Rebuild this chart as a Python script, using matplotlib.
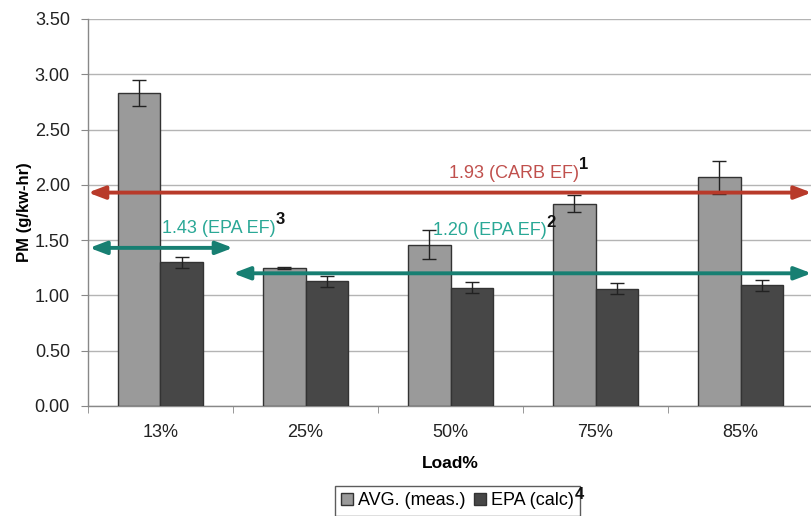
import matplotlib
matplotlib.use("Agg")
import matplotlib.pyplot as plt
import numpy as np

plt.rcParams['font.family'] = ['Liberation Sans', 'DejaVu Sans']

loads = ["13%", "25%", "50%", "75%", "85%"]
avg_meas = [2.83, 1.25, 1.46, 1.83, 2.07]
avg_err = [0.12, 0.01, 0.13, 0.08, 0.15]
epa_calc = [1.30, 1.13, 1.07, 1.06, 1.09]
epa_err = [0.05, 0.05, 0.05, 0.05, 0.05]

carb_ef = 1.93
epa_ef_low = 1.43
epa_ef = 1.20

yticks = [0.0, 0.5, 1.0, 1.5, 2.0, 2.5, 3.0, 3.5]

fig = plt.figure(figsize=(8.11, 5.16), dpi=100)
ax = fig.add_axes([0.1085, 0.2132, 0.894, 0.750])

x = np.arange(len(loads))
w = 0.29
ax.bar(x - w / 2, avg_meas, w, color="#9a9a9a", edgecolor="#333333", linewidth=1.0,
       yerr=avg_err, error_kw=dict(ecolor="#222222", elinewidth=1.0, capsize=5, capthick=1.0),
       label="AVG. (meas.)", zorder=3)
ax.bar(x + w / 2, epa_calc, w, color="#474747", edgecolor="#333333", linewidth=1.0,
       yerr=epa_err, error_kw=dict(ecolor="#222222", elinewidth=1.0, capsize=5, capthick=1.0),
       label="EPA (calc)", zorder=3)

ax.set_xlim(-0.5, len(loads) - 0.5)
ax.set_ylim(0, 3.5)
ax.set_yticks(yticks)
ax.set_yticklabels([f"{v:.2f}" for v in yticks], fontsize=13, color="#222222")
ax.set_xticks(x)
ax.set_xticklabels(loads, fontsize=13, color="#222222")
ax.set_xticks(np.arange(-0.5, len(loads), 1.0), minor=True)
ax.tick_params(axis="x", which="major", length=0, pad=13)
ax.tick_params(axis="x", which="minor", length=5, color="#888888", direction="out")
ax.tick_params(axis="y", length=5, color="#888888", direction="out", pad=8)

ax.yaxis.grid(True, color="#b4b4b4", linewidth=1.0, zorder=0)
ax.set_axisbelow(True)
for s in ("top", "right"):
    ax.spines[s].set_visible(False)
for s in ("left", "bottom"):
    ax.spines[s].set_color("#888888")
    ax.spines[s].set_linewidth(1.0)

ax.set_ylabel("PM (g/kw-hr)", fontsize=12, fontweight="bold", labelpad=2)
ax.set_xlabel("Load%", fontsize=12.5, fontweight="bold", labelpad=11)

red = "#b83a2a"
teal = "#177f72"


def ef_arrow(x0, x1, y, color):
    ax.annotate("", xy=(x0, y), xytext=(x1, y), xycoords="data",
                arrowprops=dict(arrowstyle="<|-|>,head_length=1.0,head_width=0.38",
                                color=color, lw=2.8, shrinkA=0, shrinkB=0),
                zorder=5, annotation_clip=False)


def ef_label(xc, y, text, sup, color):
    t = ax.text(xc, y, text, ha="center", va="bottom", fontsize=13, color=color, zorder=6)
    ax.annotate(sup, xy=(1.0, 0.55), xycoords=t, ha="left", va="bottom",
                fontsize=12, fontweight="bold", color="#111111", zorder=6)
    return t


ef_arrow(-0.5, 4.49, carb_ef, red)
ef_arrow(-0.49, 0.5, epa_ef_low, teal)
ef_arrow(0.5, 4.49, epa_ef, teal)

ef_label(2.44, 2.03, f"{carb_ef:.2f} (CARB EF)", "1", "#c0504d")
ef_label(0.40, 1.53, f"{epa_ef_low:.2f} (EPA EF)", "3", "#2aa896")
ef_label(2.27, 1.51, f"{epa_ef:.2f} (EPA EF)", "2", "#2aa896")

leg = fig.legend(loc="upper center", bbox_to_anchor=(0.564, 0.0756), ncol=2,
                 fontsize=13, frameon=True, fancybox=False, edgecolor="#333333",
                 handlelength=0.65, handleheight=0.65, handletextpad=0.3,
                 columnspacing=0.45, borderpad=0.35)
leg.get_frame().set_linewidth(1.0)

fig.canvas.draw()
renderer = fig.canvas.get_renderer()
bb = leg.get_texts()[1].get_window_extent(renderer)
fig.text(bb.x1 / fig.bbox.width + 0.001, (bb.y0 + 0.45 * bb.height) / fig.bbox.height, "4",
         ha="left", va="bottom", fontsize=12, fontweight="bold", color="#111111", zorder=20)

fig.savefig("out.png", dpi=100)
